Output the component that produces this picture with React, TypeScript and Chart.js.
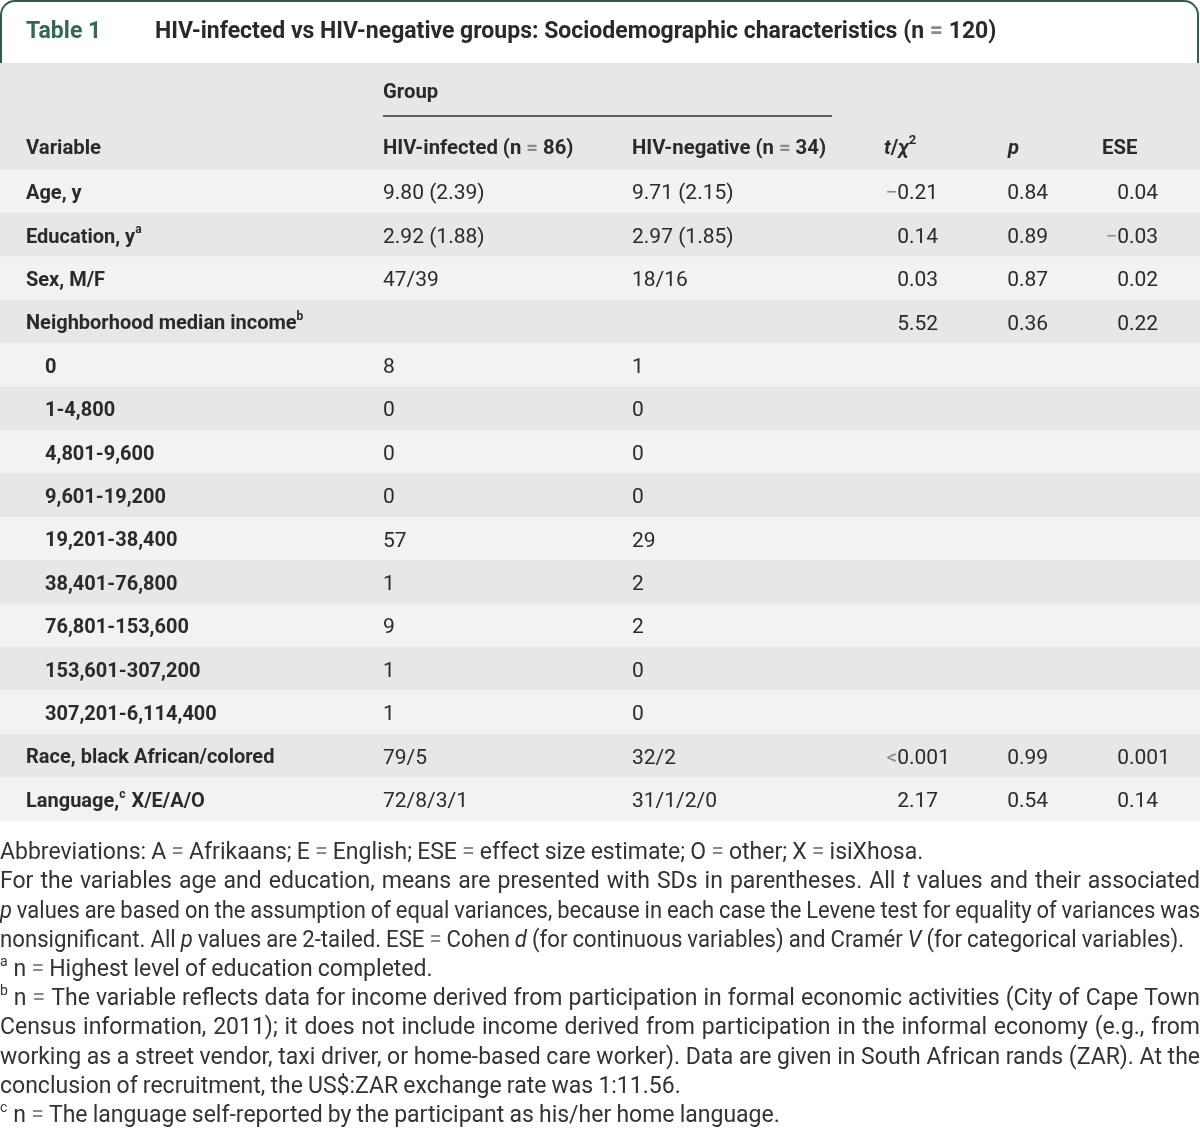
import React, { useEffect, useRef } from "react";
import { Chart, registerables } from "chart.js";
Chart.register(...registerables);

// ---------- data ----------
const tableNumber = "Table 1";
const tableTitle = "HIV-infected vs HIV-negative groups: Sociodemographic characteristics (n = 120)";
const groupHeader = "Group";
const columnHeaders = ["Variable", "HIV-infected (n = 86)", "HIV-negative (n = 34)", "_t_/_χ_^2^", "_p_", "ESE"];

const rowLabels = [
  "Age, y",
  "Education, y^a^",
  "Sex, M/F",
  "Neighborhood median income^b^",
  "0",
  "1-4,800",
  "4,801-9,600",
  "9,601-19,200",
  "19,201-38,400",
  "38,401-76,800",
  "76,801-153,600",
  "153,601-307,200",
  "307,201-6,114,400",
  "Race, black African/colored",
  "Language,^c^ X/E/A/O",
];
const indentedRows = [4, 5, 6, 7, 8, 9, 10, 11, 12];

const hivInfected = ["9.80 (2.39)", "2.92 (1.88)", "47/39", "", "8", "0", "0", "0", "57", "1", "9", "1", "1", "79/5", "72/8/3/1"];
const hivNegative = ["9.71 (2.15)", "2.97 (1.85)", "18/16", "", "1", "0", "0", "0", "29", "2", "2", "0", "0", "32/2", "31/1/2/0"];
const tChi = ["−0.21", "0.14", "0.03", "5.52", "", "", "", "", "", "", "", "", "", "<0.001", "2.17"];
const pValues = ["0.84", "0.89", "0.87", "0.36", "", "", "", "", "", "", "", "", "", "0.99", "0.54"];
const eseValues = ["0.04", "−0.03", "0.02", "0.22", "", "", "", "", "", "", "", "", "", "0.001", "0.14"];

const footnoteLines = [
  "Abbreviations: A = Afrikaans; E = English; ESE = effect size estimate; O = other; X = isiXhosa.",
  "For the variables age and education, means are presented with SDs in parentheses. All _t_ values and their associated",
  "_p_ values are based on the assumption of equal variances, because in each case the Levene test for equality of variances was",
  "nonsignificant. All _p_ values are 2-tailed. ESE = Cohen _d_ (for continuous variables) and Cramér _V_ (for categorical variables).",
  "^a^n = Highest level of education completed.",
  "^b^n = The variable reflects data for income derived from participation in formal economic activities (City of Cape Town",
  "Census information, 2011); it does not include income derived from participation in the informal economy (e.g., from",
  "working as a street vendor, taxi driver, or home-based care worker). Data are given in South African rands (ZAR). At the",
  "conclusion of recruitment, the US$:ZAR exchange rate was 1:11.56.",
  "^c^n = The language self-reported by the participant as his/her home language.",
];
const footnoteJustified = [false, true, true, false, false, true, true, true, false, false];

// ---------- style ----------
const W = 1200;
const H = 1129;
const FONT = "Roboto";
const TEXT = "#2a2a2a";
const SYMBOL = "#8a8a8a";
const GREEN = "#2f6b4f";
const BORDER = "#2d5f47";
const DARK_BG = "#e6e7e6";
const LIGHT_BG = "#f2f2f2";

type Seg = { text: string; italic?: boolean; sup?: boolean };

function parse(s: string): Seg[] {
  const segs: Seg[] = [];
  const re = /(\^[^^]+\^|_[^_]+_)/g;
  let last = 0;
  let m: RegExpExecArray | null;
  while ((m = re.exec(s))) {
    if (m.index > last) segs.push({ text: s.slice(last, m.index) });
    const t = m[0];
    if (t[0] === "^") segs.push({ text: t.slice(1, -1), sup: true });
    else segs.push({ text: t.slice(1, -1), italic: true });
    last = m.index + t.length;
  }
  if (last < s.length) segs.push({ text: s.slice(last) });
  return segs;
}

function font(size: number, weight: number, italic = false) {
  return `${italic ? "italic " : ""}${weight} ${size}px ${FONT}`;
}

function isSym(c: string) {
  return c === "=" || c === "−" || c === "<";
}

// draws text, greying symbols; returns width
function drawPlain(ctx: CanvasRenderingContext2D, text: string, x: number, y: number, color: string, draw = true) {
  let cx = x;
  let run = "";
  let runSym = false;
  const flush = () => {
    if (!run) return;
    if (draw) {
      ctx.fillStyle = runSym ? SYMBOL : color;
      ctx.fillText(run, cx, y);
    }
    cx += ctx.measureText(run).width;
    run = "";
  };
  for (const c of text) {
    const s = isSym(c);
    if (s !== runSym) {
      flush();
      runSym = s;
    }
    run += c;
  }
  flush();
  return cx - x;
}

function drawSegs(
  ctx: CanvasRenderingContext2D,
  segs: Seg[],
  x: number,
  y: number,
  size: number,
  weight: number,
  color: string,
  draw = true,
  leadSupGap = 1
) {
  let cx = x;
  segs.forEach((sg, k) => {
    if (sg.sup) {
      ctx.font = font(Math.round(size * 0.62), weight, sg.italic);
      cx += drawPlain(ctx, sg.text, cx, y - size * 0.36, color, draw) + (k === 0 ? leadSupGap : 1);
    } else {
      ctx.font = font(size, weight, sg.italic);
      cx += drawPlain(ctx, sg.text, cx, y, color, draw);
    }
  });
  return cx - x;
}

function toWords(segs: Seg[]): Seg[][] {
  const words: Seg[][] = [[]];
  for (const sg of segs) {
    const parts = sg.text.split(" ");
    parts.forEach((p, i) => {
      if (i > 0) words.push([]);
      if (p) words[words.length - 1].push({ ...sg, text: p });
    });
  }
  return words.filter((w) => w.length);
}

function drawDecimal(ctx: CanvasRenderingContext2D, text: string, decX: number, y: number, size: number) {
  if (!text) return;
  ctx.font = font(size, 400);
  const idx = text.indexOf(".");
  const intPart = idx >= 0 ? text.slice(0, idx) : text;
  const rest = idx >= 0 ? text.slice(idx) : "";
  const wInt = drawPlain(ctx, intPart, 0, 0, TEXT, false);
  drawPlain(ctx, intPart, decX - wInt, y, TEXT);
  drawPlain(ctx, rest, decX, y, TEXT);
}

const layout = {
  titleY: 32,
  headerTop: 63,
  rowsTop: 170,
  rowsBottom: 821,
  groupY: 93,
  ruleY: 116,
  ruleX0: 383,
  ruleX1: 832,
  colHeadY: 148.5,
  labelX: 26,
  indentX: 45,
  infectedX: 383,
  negativeX: 632,
  tDec: 909,
  pDec: 1019,
  eseDec: 1129,
  tHeadX: 884,
  pHeadX: 1008,
  eseHeadX: 1102,
  footY0: 853.5,
  footDY: 29.2,
  rowTextDy: 2.5,
  titleSize: 23,
  labelSize: 20,
  headSize: 20.3,
  valueSize: 21,
  footSize: 23,
  footMaxPlain: 1184,
};

const tablePlugin = {
  id: "tablePlugin",
  beforeDatasetsDraw(chart: any) {
    const ctx: CanvasRenderingContext2D = chart.ctx;
    const area = chart.chartArea;
    ctx.save();
    // header band
    ctx.fillStyle = DARK_BG;
    ctx.fillRect(area.left, layout.headerTop, area.right - area.left, area.top - layout.headerTop);
    // title tab border
    ctx.strokeStyle = BORDER;
    ctx.lineWidth = 2;
    ctx.beginPath();
    const r = 14;
    ctx.moveTo(1, layout.headerTop);
    ctx.lineTo(1, 1 + r);
    ctx.arcTo(1, 1, 1 + r, 1, r);
    ctx.lineTo(W - 2 - r, 1);
    ctx.arcTo(W - 2, 1, W - 2, 1 + r, r);
    ctx.lineTo(W - 2, layout.headerTop);
    ctx.stroke();
    ctx.restore();
  },
  afterDatasetsDraw(chart: any) {
    const ctx: CanvasRenderingContext2D = chart.ctx;
    const yScale = chart.scales.y;
    ctx.save();
    ctx.textBaseline = "middle";
    ctx.textAlign = "left";

    // title
    ctx.font = font(layout.titleSize, 700);
    ctx.fillStyle = GREEN;
    ctx.fillText(tableNumber, layout.labelX, layout.titleY);
    drawSegs(ctx, parse(tableTitle), 155, layout.titleY, layout.titleSize, 700, TEXT);

    // group header + rule
    drawSegs(ctx, parse(groupHeader), layout.infectedX, layout.groupY, layout.headSize, 700, TEXT);
    ctx.strokeStyle = "#333";
    ctx.lineWidth = 1.5;
    ctx.beginPath();
    ctx.moveTo(layout.ruleX0, layout.ruleY);
    ctx.lineTo(layout.ruleX1, layout.ruleY);
    ctx.stroke();

    const headX = [layout.labelX, layout.infectedX, layout.negativeX, layout.tHeadX, layout.pHeadX, layout.eseHeadX];
    columnHeaders.forEach((h, i) => {
      drawSegs(ctx, parse(h), headX[i], layout.colHeadY, layout.headSize, 700, TEXT);
    });

    // rows
    rowLabels.forEach((lab, i) => {
      const cy = yScale.getPixelForValue(i) + layout.rowTextDy;
      const lx = indentedRows.includes(i) ? layout.indentX : layout.labelX;
      drawSegs(ctx, parse(lab), lx, cy, layout.labelSize, 700, TEXT);
      ctx.font = font(layout.valueSize, 400);
      drawPlain(ctx, hivInfected[i], layout.infectedX, cy, TEXT);
      drawPlain(ctx, hivNegative[i], layout.negativeX, cy, TEXT);
      drawDecimal(ctx, tChi[i], layout.tDec, cy, layout.valueSize);
      drawDecimal(ctx, pValues[i], layout.pDec, cy, layout.valueSize);
      drawDecimal(ctx, eseValues[i], layout.eseDec, cy, layout.valueSize);
    });

    // footnotes
    const fs = layout.footSize;
    footnoteLines.forEach((line, i) => {
      const y = layout.footY0 + i * layout.footDY;
      const words = toWords(parse(line));
      const widths = words.map((w, k) => drawSegs(ctx, w, 0, 0, fs, 400, TEXT, false, k === 0 ? 6 : 1));
      ctx.font = font(fs, 400);
      const space = ctx.measureText(" ").width * 0.9;
      const total = widths.reduce((a, b) => a + b, 0);
      const natural = total + space * Math.max(0, words.length - 1);
      const target = footnoteJustified[i] ? W : layout.footMaxPlain;
      let gap = space;
      let sx = 1;
      if (natural > target) {
        sx = target / natural;
      } else if (footnoteJustified[i] && words.length > 1) {
        gap = (W - total) / (words.length - 1);
      }
      ctx.save();
      ctx.scale(sx, 1);
      let x = 0;
      words.forEach((w, k) => {
        drawSegs(ctx, w, x, y, fs, 400, "#333", true, k === 0 ? 6 : 1);
        x += widths[k] + gap;
      });
      ctx.restore();
    });
    ctx.restore();
  },
};

export default function App() {
  const ref = useRef<HTMLCanvasElement | null>(null);
  useEffect(() => {
    if (!ref.current) return;
    const bg = rowLabels.map((_, i) => (i % 2 === 0 ? LIGHT_BG : DARK_BG));
    const chart = new Chart(ref.current, {
      type: "bar",
      data: {
        labels: rowLabels,
        datasets: [
          {
            data: rowLabels.map(() => [0, 1]) as any,
            backgroundColor: bg,
            borderWidth: 0,
            barPercentage: 1,
            categoryPercentage: 1,
            inflateAmount: 0.5,
          } as any,
        ],
      },
      options: {
        indexAxis: "y",
        animation: false,
        responsive: false,
        devicePixelRatio: 1,
        events: [],
        layout: { padding: { top: layout.rowsTop, bottom: H - layout.rowsBottom, left: 0, right: 0 } },
        scales: {
          x: { type: "linear", min: 0, max: 1, display: false },
          y: { type: "category", display: false, offset: true },
        },
        plugins: { legend: { display: false }, tooltip: { enabled: false } },
      },
      plugins: [tablePlugin],
    });
    return () => chart.destroy();
  }, []);
  return (
    <div style={{ position: "absolute", left: 0, top: 0, width: W, height: H, background: "#fff" }}>
      <canvas ref={ref} width={W} height={H} style={{ width: W, height: H, display: "block" }} />
    </div>
  );
}
